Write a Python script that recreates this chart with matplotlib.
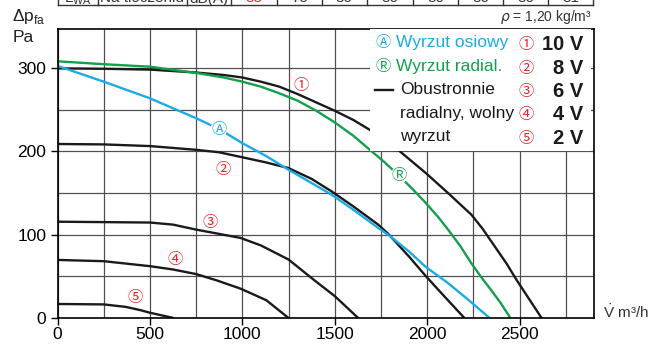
import matplotlib
matplotlib.use("Agg")
import matplotlib.pyplot as plt
from matplotlib.lines import Line2D
from matplotlib.patches import Rectangle

plt.rcParams['font.family'] = ['Liberation Sans', 'DejaVu Sans', 'Noto Sans CJK JP']

# fan curves (flow m3/h, pressure Pa)
v10_x = [0, 250, 500, 750, 900, 1000, 1100, 1200, 1300, 1400, 1500, 1600, 1690,
         1853, 1993, 2113, 2239, 2300, 2365, 2430, 2485, 2618]
v10_y = [300, 299.5, 298.5, 295, 292, 289, 284, 278, 269, 259, 249, 238, 226,
         200, 174, 150, 124, 107, 86, 65, 45, 0]
v8_x = [0, 250, 500, 750, 875, 1000, 1125, 1250, 1375, 1483, 1600, 1735, 1789,
        1900, 1993, 2100, 2200]
v8_y = [209, 208.5, 206.5, 202, 199, 193, 187, 180, 167, 152, 134, 112, 101,
        74, 50, 24, 0]
v6_x = [0, 250, 500, 625, 750, 870, 990, 1100, 1250, 1390, 1500, 1625]
v6_y = [115.5, 115, 114.5, 112, 106, 101, 96, 87, 70, 45, 26, 0]
v4_x = [0, 250, 500, 625, 750, 860, 990, 1130, 1248]
v4_y = [69.5, 68, 62, 58, 52.5, 45, 35, 21, 0]
v2_x = [0, 250, 370, 450, 500, 560, 621]
v2_y = [16.5, 16, 13, 9, 6, 3, 0]

axial_x = [0, 250, 500, 750, 875, 1000, 1125, 1250, 1375, 1483, 1600, 1735, 1800,
           1900, 1993, 2111, 2220, 2336]
axial_y = [303, 284, 264, 240, 227, 210, 195, 178, 162, 148, 130, 108, 98,
           80, 61, 42, 22, 0]
radial_x = [0, 250, 500, 750, 900, 1000, 1100, 1200, 1300, 1400, 1500, 1600, 1690,
            1770, 1847, 1920, 1993, 2060, 2113, 2180, 2239, 2302, 2347, 2400, 2449]
radial_y = [308.5, 305, 302, 294.5, 289, 284, 278, 270, 261, 249, 235, 219, 202,
            187, 171, 155, 138, 121, 106, 86, 65.5, 46, 33, 17, 0]

black_curves = [(v10_x, v10_y), (v8_x, v8_y), (v6_x, v6_y), (v4_x, v4_y), (v2_x, v2_y)]
curve_marks = ['①', '②', '③', '④', '⑤']
volt_labels = ['10 V', '8 V', '6 V', '4 V', '2 V']

table_head = ['L$_{\\mathregular{WA}}$', 'Na tłoczeniu', 'dB(A)']
table_vals = ['83', '75', '80', '80', '80', '80', '80', '81']

BLUE = '#1aabe6'
GREEN = '#12a04c'
RED = '#e8232b'
CIRC = ['Noto Sans CJK JP', 'DejaVu Sans']

W, H = 653, 345
fig = plt.figure(figsize=(W / 100, H / 100), dpi=100)
L, R, T, B = 57.5, 593.5, 29.3, 317.7
ax = fig.add_axes([L / W, 1 - B / H, (R - L) / W, (B - T) / H])

ax.set_xlim(0, 2900)
ax.set_ylim(0, 347)
ax.set_xticks(range(0, 2501, 500))
ax.set_yticks([0, 100, 200, 300])
ax.set_xticks(range(0, 2900, 250), minor=True)
ax.set_yticks(range(0, 347, 50), minor=True)
ax.grid(which='both', color='#505050', lw=0.9, zorder=0)
ax.set_axisbelow(True)
ax.tick_params(which='major', direction='out', length=5, width=1, labelsize=12.5, pad=2)
ax.tick_params(axis='y', pad=3)
ax.tick_params(which='minor', length=0)
for s in ax.spines.values():
    s.set_linewidth(1.2)

for xs, ys in black_curves:
    ax.plot(xs, ys, color='#1a1a1a', lw=1.7, zorder=2)
ax.plot(axial_x, axial_y, color=BLUE, lw=1.7, zorder=2)
ax.plot(radial_x, radial_y, color=GREEN, lw=1.7, zorder=2)

# circled curve markers
mark_pos = [(1318, 279), (898, 178), (826, 115), (637, 69.5), (418, 24.6)]
for (mx, my), m in zip(mark_pos, curve_marks):
    ax.text(mx, my, m, color=RED, fontsize=11, ha='center', va='center',
            family=CIRC, zorder=5)
ax.text(873, 227, 'Ⓐ', color=BLUE, fontsize=11, ha='center', va='center', family=CIRC,
        zorder=5, bbox=dict(boxstyle='circle,pad=0', fc='white', ec='none'))
ax.text(1847, 171, 'Ⓡ', color=GREEN, fontsize=11, ha='center', va='center', family=CIRC,
        zorder=5, bbox=dict(boxstyle='circle,pad=0', fc='white', ec='none'))

# legend block
ax.add_patch(Rectangle((0.583, 0.578), 0.412, 0.422, transform=ax.transAxes,
                       fc='white', ec='none', zorder=3))


def fx(px):
    return (px - L) / (R - L)


def fy(py):
    return (B - py) / (B - T)


ax.text(fx(383), fy(43), 'Ⓐ', color=BLUE, fontsize=11, ha='center', va='center',
        family=CIRC, transform=ax.transAxes, zorder=4)
ax.text(fx(396), fy(43), 'Wyrzut osiowy', color=BLUE, fontsize=12.5, va='center',
        transform=ax.transAxes, zorder=4)
ax.text(fx(383), fy(67), 'Ⓡ', color=GREEN, fontsize=11, ha='center', va='center',
        family=CIRC, transform=ax.transAxes, zorder=4)
ax.text(fx(396), fy(67), 'Wyrzut radial.', color=GREEN, fontsize=12.5, va='center',
        transform=ax.transAxes, zorder=4)
ax.add_line(Line2D([fx(375), fx(393)], [fy(90), fy(90)], color='#1a1a1a', lw=1.7,
                   transform=ax.transAxes, zorder=4))
for i, t in enumerate(['Obustronnie', 'radialny, wolny', 'wyrzut']):
    ax.text(fx(400), fy(90 + 23.3 * i), t, color='#1a1a1a', fontsize=12.5, va='center',
            transform=ax.transAxes, zorder=4)
for i, (m, v) in enumerate(zip(curve_marks, volt_labels)):
    ax.text(fx(526), fy(45 + 23.3 * i), m, color=RED, fontsize=11, ha='center',
            va='center', family=CIRC, transform=ax.transAxes, zorder=4)
    ax.text(fx(583), fy(45 + 23.3 * i), v, color='#1a1a1a', fontsize=14.5, ha='right',
            va='center', fontweight='bold', transform=ax.transAxes, zorder=4)

# axis captions
fig.text(12 / W, 1 - 17 / H, 'Δp$_{\\mathregular{fa}}$', fontsize=12.5, va='center',
         color='#222222')
fig.text(13 / W, 1 - 37 / H, 'Pa', fontsize=12.5, va='center', color='#222222')
fig.text(592 / W, 1 - 16.5 / H, '$\\rho$ = 1,20 kg/m³', fontsize=10, ha='right',
         va='center', color='#333333')
fig.text(603 / W, 1 - 312 / H, '$\\dot{\\mathregular{V}}$ m³/h', fontsize=11, va='center',
         color='#333333')

# top table row, cut off by the page edge
cells = [58.3, 98.3, 186.7, 231, 276.7, 321.7, 366.7, 413.3, 458.3, 503.3, 548.3, 593.3]
fig.add_artist(Line2D([cells[0] / W, cells[-1] / W], [1 - 5 / H, 1 - 5 / H],
                      color='#333333', lw=1))
for c in cells:
    fig.add_artist(Line2D([c / W, c / W], [1 - 5 / H, 1], color='#333333', lw=1))
labels = table_head + table_vals
for i, t in enumerate(labels):
    cx = (cells[i] + cells[i + 1]) / 2
    col = RED if i == 3 else '#333333'
    fig.text(cx / W, 1 - 2.5 / H, t, fontsize=11, ha='center', va='baseline', color=col)

fig.savefig('out.png', dpi=100)
